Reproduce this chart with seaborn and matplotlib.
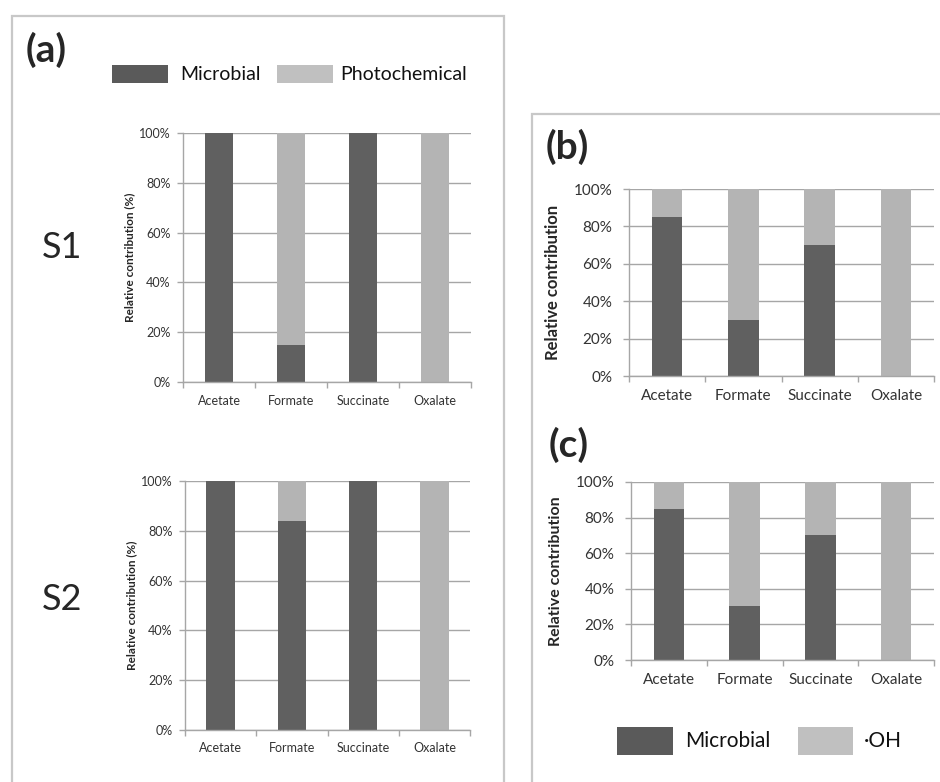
import pandas as pd
import numpy as np
import matplotlib
matplotlib.use("Agg")
import matplotlib.pyplot as plt
from matplotlib.patches import Rectangle
from matplotlib.ticker import FuncFormatter, FixedLocator
import seaborn as sns

sns.set_style("white")
plt.rcParams['font.family'] = ['Lato', 'DejaVu Sans']

# data (percent of total)
acids = ["Acetate", "Formate", "Succinate", "Oxalate"]
microbial_s1 = [100, 15, 100, 0]
microbial_s2 = [100, 84, 100, 0]
microbial_b = [85, 30, 70, 0]
microbial_c = [85, 30.5, 70, 0]
total = [100, 100, 100, 100]

dark = "#606060"
light = "#b4b4b4"
grid_col = "#a6a6a6"

W, H = 940, 782
fig = plt.figure(figsize=(W / 100, H / 100), dpi=100)


def px_axes(left, top, right, bottom):
    return fig.add_axes([left / W, 1 - bottom / H, (right - left) / W, (bottom - top) / H])


def stacked(ax, micro, tick_size, tick_pad, label, label_size, label_pad):
    df = pd.DataFrame({"acid": acids, "total": total, "micro": micro})
    sns.barplot(data=df, x="acid", y="total", color=light, width=0.4,
                saturation=1, errorbar=None, linewidth=0, edgecolor="none", ax=ax)
    sns.barplot(data=df, x="acid", y="micro", color=dark, width=0.4,
                saturation=1, errorbar=None, linewidth=0, edgecolor="none", ax=ax)
    ax.set_xlim(-0.5, 3.5)
    ax.set_ylim(0, 100)
    ax.set_yticks([0, 20, 40, 60, 80, 100])
    ax.yaxis.set_major_formatter(FuncFormatter(lambda v, p: f"{v:.0f}%"))
    ax.grid(axis="y", color=grid_col, linewidth=1.0)
    ax.set_axisbelow(True)
    for s in ["top", "right"]:
        ax.spines[s].set_visible(False)
    for s in ["left", "bottom"]:
        ax.spines[s].set_color(grid_col)
        ax.spines[s].set_linewidth(1.0)
    ax.xaxis.set_minor_locator(FixedLocator([-0.5, 0.5, 1.5, 2.5, 3.5]))
    ax.tick_params(axis="x", which="major", length=0, labelsize=tick_size,
                   labelcolor="#333333", pad=9)
    ax.tick_params(axis="x", which="minor", length=4, color=grid_col, width=1, bottom=True)
    ax.tick_params(axis="y", length=4, color=grid_col, width=1, left=True,
                   labelsize=tick_size, labelcolor="#333333", pad=tick_pad)
    ax.set_xlabel("")
    ax.set_ylabel(label, fontsize=label_size, fontweight="bold", labelpad=label_pad)


ax_s1 = px_axes(183, 133, 471, 382)
stacked(ax_s1, microbial_s1, 9, 5, "Relative contribution (%)", 8.5, 3)
ax_s2 = px_axes(185, 481, 470, 730)
stacked(ax_s2, microbial_s2, 9, 5, "Relative contribution (%)", 8.5, 3)
ax_b = px_axes(629, 189, 934, 376)
stacked(ax_b, microbial_b, 11, 8, "Relative contribution", 12, 9)
ax_c = px_axes(631, 482, 934, 660)
stacked(ax_c, microbial_c, 11, 8, "Relative contribution", 11.5, 9)

# panel frames
box = "#c8c8c8"
fig.add_artist(Rectangle((12 / W, -0.1), (504 - 12) / W, 1.1 - 16 / H,
                         transform=fig.transFigure, fill=False, edgecolor=box, linewidth=1.6))
fig.add_artist(Rectangle((532 / W, -0.1), 0.5, 1.1 - 114 / H,
                         transform=fig.transFigure, fill=False, edgecolor=box, linewidth=1.6))

# panel letters and row labels
fig.text(26 / W, 1 - 50 / H, "(a)", fontsize=28, fontweight="bold", va="center")
fig.text(546 / W, 1 - 147 / H, "(b)", fontsize=28, fontweight="bold", va="center")
fig.text(549 / W, 1 - 445 / H, "(c)", fontsize=28, fontweight="bold", va="center")
fig.text(62 / W, 1 - 247 / H, "S1", fontsize=26, ha="center", va="center")
fig.text(62 / W, 1 - 600 / H, "S2", fontsize=26, ha="center", va="center")

# legends
def legend_entry(x0, x1, y0, y1, color, text, tx, size):
    fig.add_artist(Rectangle((x0 / W, 1 - y1 / H), (x1 - x0) / W, (y1 - y0) / H,
                             transform=fig.transFigure, facecolor=color, edgecolor="none"))
    fig.text(tx / W, 1 - (y0 + y1) / 2 / H, text, fontsize=size, va="center", ha="left",
             color="#111111")

legend_entry(112, 168, 65, 83, "#5a5a5a", "Microbial", 180, 14)
legend_entry(277, 333, 65, 83, "#c0c0c0", "Photochemical", 340, 14)
legend_entry(617, 673, 727, 755, "#5a5a5a", "Microbial", 685, 15)
legend_entry(798, 853, 727, 755, "#c0c0c0", "·OH", 864, 15)

fig.savefig("out.png", dpi=100)
